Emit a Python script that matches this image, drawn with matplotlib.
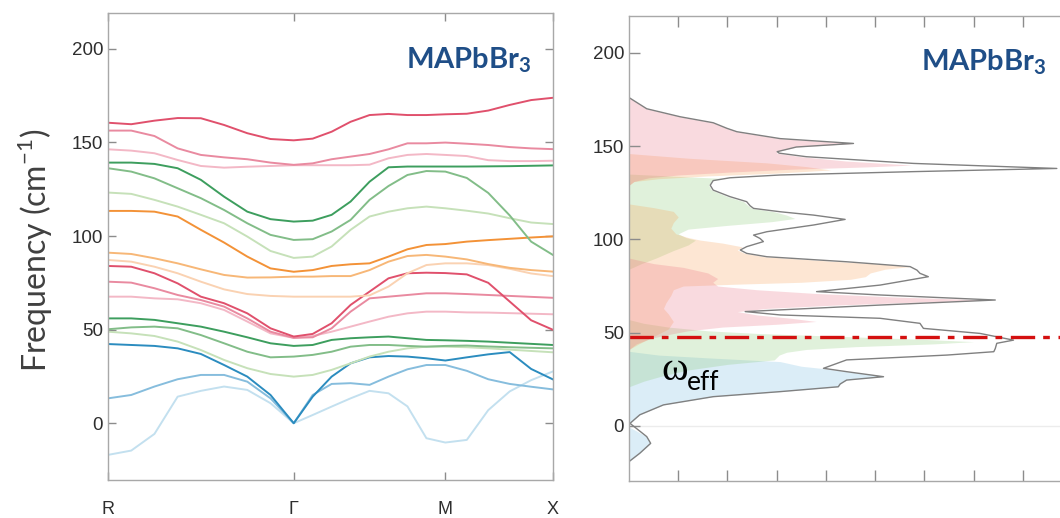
"""Phonon dispersion and DOS of MAPbBr3 (two panels)."""

import matplotlib

matplotlib.use("Agg")
import matplotlib.pyplot as plt
import numpy as np

# --- band structure along R-G-M-X (cubic BZ, segment lengths in pi/a) ---
SEG_LEN = [np.sqrt(3), np.sqrt(2), 1.0]
SEG_PTS = [8, 8, 5]
SYM_LABELS = ["R", "Γ", "M", "X"]

# frequencies (cm^-1) at each k-point, 22 points per band
BAND_RED_1 = [160.5, 159.7, 161.6, 163.0, 162.9, 159.3, 154.9, 151.8, 151.1, 152.0, 155.7,
              161.0, 164.6, 165.2, 164.6, 164.6, 165.0, 165.3, 167.0, 170.0, 172.6, 173.8]
BAND_RED_2 = [156.3, 156.3, 153.4, 146.8, 143.3, 142.0, 141.0, 139.2, 138.0, 138.8, 141.0,
              142.4, 143.8, 146.3, 149.5, 149.5, 149.9, 149.3, 148.6, 147.5, 146.8, 146.4]
BAND_RED_3 = [146.3, 145.6, 144.2, 140.6, 137.4, 136.5, 137.0, 137.4, 137.8, 137.8, 137.8,
              137.8, 138.1, 141.5, 143.3, 143.8, 143.3, 142.7, 140.5, 140.0, 140.0, 140.2]
BAND_GRN_1 = [139.2, 139.2, 138.5, 136.2, 130.0, 121.0, 113.0, 109.0, 107.7, 108.2, 111.3,
              118.4, 129.0, 136.7, 137.1, 137.1, 137.1, 137.1, 137.2, 137.3, 137.5, 137.7]
BAND_GRN_2 = [136.2, 134.4, 130.8, 125.5, 120.2, 113.9, 106.8, 100.6, 97.9, 98.3, 102.4,
              108.6, 119.3, 126.7, 132.6, 134.7, 134.4, 131.0, 123.0, 111.0, 97.0, 90.0]
BAND_GRN_3 = [123.2, 122.5, 119.3, 115.7, 111.3, 106.8, 99.7, 92.0, 88.3, 89.0, 94.4,
              103.3, 110.4, 113.0, 114.8, 115.7, 114.8, 113.5, 112.0, 109.5, 107.2, 106.4]
BAND_ORG_1 = [113.4, 113.4, 113.0, 110.4, 103.3, 96.5, 89.0, 82.7, 80.9, 81.8, 84.0,
              84.9, 85.4, 89.0, 92.9, 95.2, 95.7, 97.0, 97.8, 98.5, 99.2, 99.8]
BAND_ORG_2 = [91.1, 90.4, 88.1, 85.4, 82.2, 79.2, 77.8, 77.9, 78.3, 78.3, 78.6,
              78.6, 81.8, 86.3, 89.3, 89.9, 89.0, 87.5, 85.0, 83.0, 81.8, 81.0]
BAND_ORG_3 = [87.2, 86.3, 83.6, 80.1, 75.6, 71.5, 69.0, 68.0, 67.6, 67.6, 67.6,
              67.6, 68.3, 73.0, 80.1, 84.5, 85.4, 85.4, 84.5, 82.5, 80.0, 78.6]
BAND_RED_4 = [84.0, 83.6, 80.1, 74.7, 67.6, 64.1, 58.7, 50.7, 46.3, 47.7, 53.4,
              63.2, 70.3, 77.4, 80.1, 80.4, 80.2, 79.5, 75.0, 65.0, 55.0, 50.0]
BAND_RED_5 = [75.6, 75.1, 72.1, 68.5, 65.8, 62.3, 56.0, 48.9, 45.6, 45.9, 50.7,
              59.6, 66.7, 67.6, 68.5, 69.4, 69.4, 69.0, 68.5, 68.0, 67.5, 67.0]
BAND_RED_6 = [67.6, 67.6, 66.7, 66.2, 64.1, 60.5, 54.3, 48.0, 45.6, 46.6, 48.9,
              51.6, 54.3, 56.9, 58.7, 59.6, 59.6, 59.2, 59.1, 58.8, 58.5, 58.2]
BAND_GRN_4 = [56.0, 56.0, 55.2, 53.4, 51.6, 48.9, 45.9, 42.7, 41.3, 41.8, 44.5,
              45.4, 45.9, 46.3, 45.4, 44.5, 44.3, 44.0, 43.6, 43.0, 42.4, 41.8]
BAND_GRN_5 = [50.2, 51.2, 51.6, 50.7, 47.1, 42.7, 38.2, 35.2, 35.6, 36.5, 38.2,
              40.9, 41.8, 41.8, 41.3, 40.9, 41.3, 41.5, 41.0, 40.6, 40.3, 40.0]
BAND_GRN_6 = [48.9, 48.0, 46.6, 43.6, 39.1, 33.8, 29.4, 26.3, 24.9, 25.8, 28.5,
              32.0, 35.6, 38.2, 40.0, 40.9, 40.9, 40.6, 40.0, 39.3, 38.6, 37.9]
BAND_BLU_1 = [42.3, 41.8, 41.3, 40.0, 37.0, 31.1, 24.9, 15.1, 0.0, 14.2, 24.9,
              32.0, 35.2, 35.9, 35.6, 34.7, 33.5, 35.2, 36.8, 38.0, 29.0, 23.5]
BAND_BLU_2 = [13.3, 15.1, 19.6, 23.5, 25.8, 25.8, 22.2, 13.3, 0.0, 15.1, 21.0,
              21.4, 20.5, 24.9, 28.8, 31.1, 31.1, 28.0, 23.5, 21.0, 19.5, 18.1]
BAND_BLU_3 = [-16.9, -14.6, -5.7, 14.2, 17.3, 19.6, 17.8, 10.7, 0.0, 4.4, 8.9,
              13.3, 17.3, 16.0, 9.0, -8.0, -10.3, -8.9, 7.0, 17.0, 23.0, 27.6]

# --- phonon DOS (frequency cm^-1, DOS in axis-tick units) ---
TOTAL_FREQ = [176.0, 170.0, 165.7, 162.5, 159.5, 157.7, 154.0, 151.4, 149.5, 147.0, 146.2,
              144.3, 140.7, 138.0, 136.3, 134.5, 133.0, 131.5, 129.0, 126.4, 122.9, 120.2,
              118.0, 116.6, 114.8, 113.0, 110.7, 107.7, 104.1, 102.3, 100.5, 98.8, 96.1,
              94.3, 92.5, 90.7, 88.0, 85.4, 83.5, 81.8, 80.0, 78.6, 75.5, 72.0, 70.2, 67.5,
              64.8, 61.3, 59.5, 57.7, 55.0, 52.3, 49.6, 46.0, 44.3, 41.5, 39.8, 38.0, 35.4,
              30.9, 29.1, 26.4, 24.6, 22.5, 21.0, 18.4, 15.7, 11.3, 6.0, 1.4, -5.7, -9.3,
              -14.6, -19.1]
TOTAL_DOS = [0.0, 0.36, 1.04, 1.71, 1.99, 2.19, 3.07, 4.56, 3.40, 3.01, 3.05,
             3.60, 5.78, 8.69, 5.78, 3.07, 2.05, 1.71, 1.65, 1.71, 2.05, 2.39,
             2.46, 2.53, 3.07, 3.75, 4.39, 3.75, 2.80, 2.53, 2.66, 2.73, 2.39,
             2.26, 2.39, 2.80, 4.42, 5.71, 5.85, 5.91, 6.08, 5.78, 5.10, 3.81, 5.10, 7.44,
             5.10, 2.36, 3.07, 5.10, 5.91, 5.98, 7.13, 7.81, 7.47, 7.44, 7.41, 6.46, 4.42,
             3.95, 4.42, 5.17, 4.42, 4.29, 4.25, 3.07, 1.71, 0.70, 0.22, 0.02, 0.36, 0.44,
             0.22, 0.0]

RED_FREQ = [176.0, 170.0, 165.7, 162.5, 159.5, 157.7, 154.0, 151.4, 149.5, 147.0, 146.2,
            144.3, 142.0, 139.8, 138.8, 137.5, 136.0, 134.5, 133.0, 131.0, 129.0, 90.0,
            87.0, 85.0, 82.0, 79.0, 77.0, 75.0, 73.0, 71.0, 69.0, 67.5, 66.3, 64.8, 63.0,
            61.3, 59.5, 57.7, 56.0, 54.5, 53.0, 51.0, 49.0, 47.0, 44.0, 41.0]
RED_DOS = [0.0, 0.36, 1.04, 1.71, 1.99, 2.19, 3.07, 4.56, 3.40, 3.0, 3.0,
           3.5, 4.4, 5.75, 4.8, 3.2, 2.0, 1.0, 0.4, 0.1, 0.0, 0.0,
           0.5, 1.1, 1.6, 1.8, 1.7, 1.8, 2.6, 3.8, 5.5, 7.4, 5.8, 4.2, 2.8,
           2.2, 2.6, 3.3, 3.8, 3.0, 1.9, 1.2, 0.8, 0.45, 0.15, 0.0]

ORG_FREQ = [146.0, 143.5, 141.0, 139.0, 137.2, 135.5, 134.0, 132.5, 131.0, 129.0, 119.0,
            117.0, 115.0, 112.0, 109.0, 106.0, 103.0, 101.0, 99.6, 98.0, 96.0, 94.3,
            92.5, 90.7, 88.0, 86.5, 85.4, 84.0, 82.0, 80.0, 78.6, 77.0, 76.0, 75.0,
            73.0, 70.0, 66.0, 63.0, 60.0, 56.0, 52.0, 48.0, 44.0, 41.0]
ORG_DOS = [0.0, 1.2, 2.8, 3.6, 4.1, 3.0, 1.6, 0.6, 0.1, 0.0, 0.0,
           0.5, 0.9, 1.0, 0.9, 0.85, 0.95, 1.2, 1.45, 1.9, 2.3, 2.2,
           2.35, 2.75, 4.3, 5.3, 5.7, 5.2, 4.9, 4.8, 4.5, 3.5, 2.2, 1.1,
           0.9, 0.85, 0.75, 0.7, 0.8, 0.9, 0.8, 0.5, 0.2, 0.0]

GRN_FREQ = [135.0, 133.5, 132.7, 131.5, 129.0, 126.4, 122.9, 120.2, 118.0, 116.6, 114.8,
            113.0, 111.2, 109.5, 107.5, 105.5, 103.0, 101.0, 99.6, 97.0, 94.0, 90.0,
            87.0, 84.0, 57.0, 55.0, 53.0, 51.0, 49.6, 48.0, 46.5, 45.2, 44.0, 42.5,
            41.0, 39.5, 38.0, 35.4, 33.0, 30.0, 27.0, 24.0, 21.0]
GRN_DOS = [0.0, 1.2, 1.9, 1.68, 1.62, 1.68, 2.0, 2.33, 2.42, 2.5, 2.95,
           3.2, 3.37, 2.9, 2.0, 1.2, 1.0, 1.15, 1.35, 1.2, 0.9, 0.55,
           0.25, 0.0, 0.0, 0.3, 0.8, 1.6, 2.6, 4.3, 5.9, 7.0, 6.2, 4.6,
           3.6, 3.2, 3.05, 2.95, 2.0, 1.2, 0.7, 0.3, 0.0]

BLU_FREQ = [40.0, 38.0, 36.5, 34.5, 32.0, 30.9, 29.1, 27.5, 26.4, 25.5, 24.6, 22.5,
            21.0, 18.4, 15.7, 11.3, 6.0, 1.4, -0.5, -5.7, -9.3, -14.6, -19.1]
BLU_DOS = [0.0, 0.6, 1.6, 3.07, 3.5, 3.9, 4.42, 5.0, 5.17, 4.7, 4.42, 4.29,
           4.25, 3.07, 1.71, 0.70, 0.22, 0.02, 0.0, 0.36, 0.44, 0.22, 0.0]

OMEGA_EFF = 47.7

RED_D, RED_M, RED_L = "#e0506c", "#e98aa0", "#f3b8c6"
GRN_D, GRN_M, GRN_L = "#3d9e5e", "#82bd88", "#c6e1b9"
ORG_D, ORG_M, ORG_L = "#f39237", "#f7b777", "#fad2b2"
BLU_D, BLU_M, BLU_L = "#2b8cbf", "#86bddd", "#c3e0ef"
TITLE_COLOR = "#1f4e87"
SPINE = "#a8a8a8"

plt.rcParams["font.family"] = ["Liberation Sans", "DejaVu Sans"]
plt.rcParams["mathtext.fontset"] = "custom"
plt.rcParams["mathtext.bf"] = "Lato:bold"
plt.rcParams["mathtext.rm"] = "Lato"


def kpath() -> tuple[np.ndarray, list[float]]:
    ks, nodes, start = [0.0], [0.0], 0.0
    for length, n in zip(SEG_LEN, SEG_PTS):
        ks += [start + length * i / n for i in range(1, n + 1)]
        start += length
        nodes.append(start)
    return np.array(ks), nodes


def style_axis(ax) -> None:
    for sp in ax.spines.values():
        sp.set_color(SPINE)
        sp.set_linewidth(1.0)
    ax.tick_params(direction="in", length=6, width=1.0, color="#8c8c8c",
                   labelcolor="#2e2e2e", labelsize=13.5, top=True, right=True)


def title(ax, x, y) -> None:
    ax.text(x, y, r"$\mathbf{MAPbBr}_{\mathbf{3}}$", color=TITLE_COLOR, fontsize=21,
            ha="left", va="baseline")


fig = plt.figure(figsize=(10.6, 5.18), dpi=100)
ax1 = fig.add_axes([0.1019, 0.0734, 0.4194, 0.9015])
ax2 = fig.add_axes([0.5934, 0.0714, 0.418, 0.8977])

k, nodes = kpath()
bands = [
    (BAND_BLU_3, BLU_L), (BAND_BLU_2, BLU_M), (BAND_BLU_1, BLU_D),
    (BAND_GRN_6, GRN_L), (BAND_GRN_5, GRN_M), (BAND_GRN_4, GRN_D),
    (BAND_RED_6, RED_L), (BAND_RED_5, RED_M), (BAND_RED_4, RED_D),
    (BAND_ORG_3, ORG_L), (BAND_ORG_2, ORG_M), (BAND_ORG_1, ORG_D),
    (BAND_GRN_3, GRN_L), (BAND_GRN_2, GRN_M), (BAND_GRN_1, GRN_D),
    (BAND_RED_3, RED_L), (BAND_RED_2, RED_M), (BAND_RED_1, RED_D),
]
for freq, color in bands:
    ax1.plot(k, freq, color=color, lw=1.4, solid_joinstyle="round")

ax1.set_xlim(nodes[0], nodes[-1])
ax1.set_ylim(-30.3, 219.1)
ax1.set_xticks(nodes)
ax1.set_xticklabels(SYM_LABELS)
ax1.set_yticks([0, 50, 100, 150, 200])
style_axis(ax1)
ax1.tick_params(axis="x", pad=15, labelsize=13)
title(ax1, 2.78, 189.7)

# DOS panel
for f, d, color in [(BLU_FREQ, BLU_DOS, "#76bce1"), (GRN_FREQ, GRN_DOS, "#8aca76"),
                    (ORG_FREQ, ORG_DOS, "#f8a255"), (RED_FREQ, RED_DOS, "#eb7384")]:
    ax2.fill_betweenx(f, 0, d, color=color, alpha=0.26, lw=0)
ax2.axhline(0, color="#ececec", lw=1.0, zorder=0)
ax2.plot(TOTAL_DOS, TOTAL_FREQ, color="#808080", lw=1.0)
ax2.axhline(OMEGA_EFF, color="#d41010", lw=2.4, dashes=(7.3, 2.4, 2.0, 2.6))
ax2.text(0.65, 24.6, "ω", family=["Liberation Serif"], fontsize=29, color="black",
         ha="left", va="baseline")
ax2.text(1.18, 19.5, "eff", family=["Lato"], fontsize=19, color="black",
         ha="left", va="baseline")

ax2.set_xlim(0, 9)
ax2.set_ylim(-29.5, 219.7)
ax2.set_xticks(range(1, 9))
ax2.set_xticklabels([])
ax2.set_yticks([0, 50, 100, 150, 200])
style_axis(ax2)
ax2.tick_params(length=8)
title(ax2, 5.94, 190.7)

fig.text(35 / 1060, 1 - 250 / 518, "Frequency (cm$^{-1}$)", rotation=90, ha="center",
         va="center", fontsize=23, color="#404040", family=["Lato"])

fig.savefig("out.png", dpi=100)
